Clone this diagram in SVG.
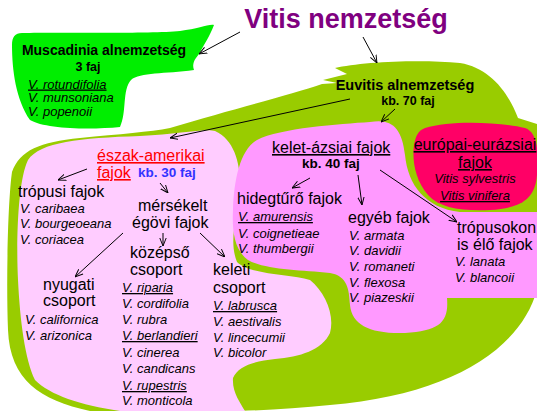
<svg xmlns="http://www.w3.org/2000/svg" width="537" height="411" viewBox="0 0 537 411">
<defs>
<marker id="ah" viewBox="0 0 10 10" refX="10" refY="5" markerWidth="8" markerHeight="8" markerUnits="userSpaceOnUse" orient="auto">
<path d="M0,1 L10,5 L0,9" fill="none" stroke="#000" stroke-width="1.2"/>
</marker>
</defs>
<style>
text{font-family:"Liberation Sans",Arial,sans-serif;fill:#000}
.h{font-size:16px}
.b{font-weight:bold}
.sp{font-size:13px;font-style:italic}
.u{text-decoration:underline}
.c{text-anchor:middle}
.ln{stroke:#000;stroke-width:1;fill:none;marker-end:url(#ah)}
</style>
<rect width="537" height="411" fill="#fff"/>
<g id="euvitis-area">
<path d="M335,68 C360,62 420,59 460,63 C490,68 508,92 518,118 L537,124 L537,290 C520,350 450,395 330,405 C300,408 270,410 240,411 L90,411 C40,400 10,380 8,330 C6,280 8,200 12,172 C20,150 40,142 80,138 C120,134 150,132 170,128 C230,110 290,95 322,84 L337,83 L323,80 L347,74 Z" fill="#99cc00"/>
</g>
<g id="muscadinia">
<path d="M22,33 C60,32 150,34 180,31 C198,29 208,24 214,25 C210,36 203,46 199,54 C194,60 192,64 194,70 C165,74 140,72 131,80 C122,90 127,112 120,127 C90,130 45,129 30,120 C16,100 12,70 12,45 C12,37 15,33 22,33 Z" fill="#00ee00"/>
<text x="104" y="55" class="c b" font-size="14">Muscadinia alnemzetség</text>
<text x="88" y="71" class="c b" font-size="12.5">3 faj</text>
<text x="28" y="88.5" class="sp u" font-size="12">V. rotundifolia</text>
<text x="28" y="102" class="sp" font-size="12">V. munsoniana</text>
<text x="28" y="115.5" class="sp" font-size="12">V. popenoii</text>
</g>
<g id="eszak-amerikai">
<path d="M28,160 C40,142 80,138 140,136 C180,134 205,128 215,131 C235,140 241,165 240,190 C238,215 228,240 237,262 C250,275 290,274 310,280 C325,292 335,315 330,333 C322,350 300,357 275,359 C255,361 238,366 233,378 C232,392 240,402 245,411 L120,411 C80,405 50,395 35,380 C25,360 20,320 18,280 C16,240 18,180 28,160 Z" fill="#ffccff"/>
<text x="97" y="161" class="h u" font-size="15.5" style="fill:#ff0000">észak-amerikai</text>
<text x="97" y="178" class="h u" font-size="15.5" style="fill:#ff0000">fajok</text>
<text x="138" y="177" class="b" font-size="13.5" style="fill:#3333ff">kb. 30 faj</text>
<text x="18" y="197" class="h">trópusi  fajok</text>
<text x="20" y="213" class="sp">V. caribaea</text>
<text x="20" y="228" class="sp">V. bourgeoeana</text>
<text x="20" y="244" class="sp">V. coriacea</text>
<text x="138" y="211" class="h">mérsékelt</text>
<text x="132" y="228" class="h">égövi  fajok</text>
<text x="43" y="290" class="h">nyugati</text>
<text x="43" y="306" class="h">csoport</text>
<text x="25" y="324" class="sp">V. californica</text>
<text x="25" y="340" class="sp">V. arizonica</text>
<text x="130" y="258" class="h">középső</text>
<text x="130" y="275" class="h">csoport</text>
<text x="122" y="292" class="sp u">V. riparia</text>
<text x="122" y="308" class="sp">V. cordifolia</text>
<text x="122" y="324" class="sp">V. rubra</text>
<text x="122" y="340" class="sp u">V. berlandieri</text>
<text x="122" y="357" class="sp">V. cinerea</text>
<text x="122" y="373" class="sp">V. candicans</text>
<text x="122" y="390" class="sp u">V. rupestris</text>
<text x="122" y="405" class="sp">V. monticola</text>
<text x="213" y="275" class="h">keleti</text>
<text x="213" y="293" class="h">csoport</text>
<text x="213" y="310" class="sp u">V. labrusca</text>
<text x="213" y="326" class="sp">V. aestivalis</text>
<text x="213" y="342" class="sp">V. lincecumii</text>
<text x="213" y="357" class="sp">V. bicolor</text>
</g>
<g id="kelet-azsiai">
<path d="M257,140 C280,128 340,124 370,122 C392,118 402,128 405,155 C408,185 425,208 460,212 L537,212 L537,298 L447,298 C449,322 440,331 405,333 C370,334 352,325 350,305 C349,290 348,276 330,273 C300,270 265,270 248,260 C234,250 232,230 233,210 C234,180 240,150 257,140 Z" fill="#ff99ff"/>
<text x="272" y="153" class="h u">kelet-ázsiai fajok</text>
<text x="302" y="168" class="b" font-size="13.5">kb. 40 faj</text>
<text x="237" y="204" class="h">hidegtűrő fajok</text>
<text x="238" y="221" class="sp u">V. amurensis</text>
<text x="238" y="238" class="sp">V. coignetieae</text>
<text x="238" y="253" class="sp">V. thumbergii</text>
<text x="348" y="223" class="h">egyéb  fajok</text>
<text x="349" y="240" class="sp">V. armata</text>
<text x="349" y="255" class="sp">V. davidii</text>
<text x="349" y="271" class="sp">V. romaneti</text>
<text x="349" y="287" class="sp">V. flexosa</text>
<text x="349" y="302" class="sp">V. piazeskii</text>
<text x="457" y="233" class="h">trópusokon</text>
<text x="457" y="250" class="h">is élő fajok</text>
<text x="455" y="266" class="sp">V. lanata</text>
<text x="455" y="282" class="sp">V. blancoii</text>
</g>
<g id="europai">
<path d="M425,128 C450,120 500,122 525,128 C537,132 539,150 537,175 C535,200 520,208 490,210 C460,211 440,208 428,195 C415,180 412,160 414,145 C416,135 418,131 425,128 Z" fill="#ff0066"/>
<text x="475" y="150" class="h c u">európai-eurázsiai</text>
<text x="475" y="168" class="h c u">fajok</text>
<text x="475" y="183" class="sp c">Vitis sylvestris</text>
<text x="475" y="200" class="sp c u">Vitis vinifera</text>
</g>
<g id="vitis">
<text x="346" y="28" class="c b" font-size="27" style="fill:#800080">Vitis nemzetség</text>
</g>
<g id="euvitis">
<text x="405" y="89.5" class="c b" font-size="14.5">Euvitis alnemzetség</text>
<text x="408" y="104.5" class="c b" font-size="12.5">kb. 70 faj</text>
</g>
<g id="connectors">
<line class="ln" x1="240" y1="32" x2="199" y2="54"/>
<line class="ln" x1="363" y1="37" x2="377" y2="63"/>
<line class="ln" x1="395" y1="109" x2="381" y2="122"/>
<line class="ln" x1="350" y1="99" x2="170" y2="138"/>
<line class="ln" x1="87" y1="169" x2="58" y2="180"/>
<line class="ln" x1="160" y1="183" x2="168" y2="193"/>
<line class="ln" x1="123" y1="233" x2="75" y2="277"/>
<line class="ln" x1="163" y1="233" x2="163" y2="246"/>
<line class="ln" x1="200" y1="233" x2="225" y2="257"/>
<line class="ln" x1="310" y1="178" x2="292" y2="188"/>
<line class="ln" x1="358" y1="175" x2="362" y2="205"/>
<line class="ln" x1="380" y1="170" x2="457" y2="222"/>
</g>
</svg>
